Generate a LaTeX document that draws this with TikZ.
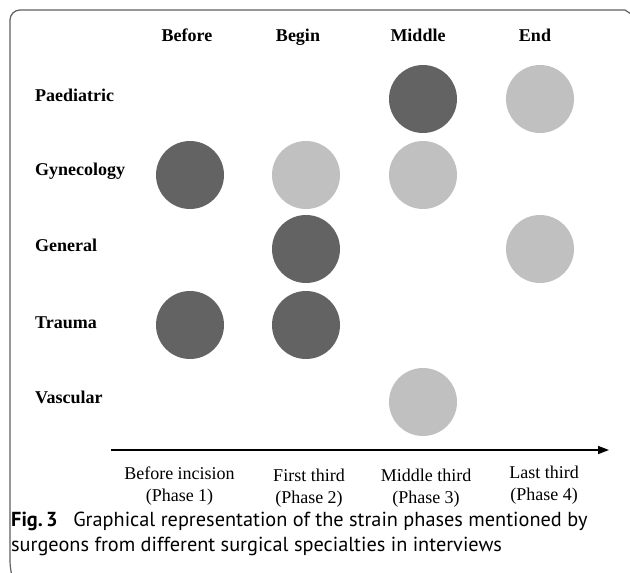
\documentclass[tikz,border=0pt]{standalone}
\usepackage{fontspec}
\setmainfont{Liberation Serif}
\newfontfamily\capfont{PT Sans}
\usetikzlibrary{arrows.meta}
\definecolor{darkdot}{HTML}{636363}
\definecolor{lightdot}{HTML}{C0C0C0}
\definecolor{framecol}{HTML}{606060}
\begin{document}
\begin{tikzpicture}[x=1pt,y=-1pt,
  dotdark/.style={circle,fill=darkdot,draw=none,minimum size=68pt,inner sep=0pt},
  dotlight/.style={circle,fill=lightdot,draw=none,minimum size=68pt,inner sep=0pt},
  headlbl/.style={font=\fontsize{18}{20}\selectfont\bfseries,anchor=base,inner sep=0pt},
  rowlbl/.style={font=\fontsize{18}{20}\selectfont\bfseries,anchor=base west,inner sep=0pt},
  phaselbl/.style={font=\fontsize{18}{20}\selectfont,anchor=base,inner sep=0pt},
  caplbl/.style={font=\capfont\fontsize{20.3}{25}\selectfont,anchor=base west,inner sep=0pt}
]
\useasboundingbox[fill=white] (0,0) rectangle (630,573);
% frame
\draw[framecol,line width=1.2pt] (631,14) -- (625,10) [rounded corners=10pt] -- (10,10) -- (10,571) [sharp corners] -- (11,574);
% headers
\node[headlbl] (hBefore) at (187,41.7) {Before};
\node[headlbl] (hBegin) at (298,41.7) {Begin};
\node[headlbl] (hMiddle) at (418,41.7) {Middle};
\node[headlbl] (hEnd) at (535,41.7) {End};
% row labels
\node[rowlbl] (rPaed) at (35,101.7) {Paediatric};
\node[rowlbl] (rGyn) at (35,175.5) {Gynecology};
\node[rowlbl] (rGen) at (35,251) {General};
\node[rowlbl] (rTrau) at (35,328) {Trauma};
\node[rowlbl] (rVasc) at (35,403) {Vascular};
% dots
\node[dotdark]  (pM) at (423,99) {};
\node[dotlight] (pE) at (540,99) {};
\node[dotdark]  (gyB) at (190,175) {};
\node[dotlight] (gyG) at (306,175) {};
\node[dotlight] (gyM) at (423,175) {};
\node[dotdark]  (geG) at (306,249) {};
\node[dotlight] (geE) at (540,249) {};
\node[dotdark]  (tB) at (190,325) {};
\node[dotdark]  (tG) at (306,325) {};
\node[dotlight] (vM) at (423,402) {};
% axis
\coordinate (axS) at (111,450);
\coordinate (axE) at (609,450);
\draw[line width=1.5pt,-{Triangle[length=11pt,width=8pt]}] (axS) -- (axE);
% phase labels
\node[phaselbl] (p1a) at (179.5,479) {Before incision};
\node[phaselbl] (p1b) at (179.5,501) {(Phase 1)};
\node[phaselbl] (p2a) at (309,481) {First third};
\node[phaselbl] (p2b) at (309,503) {(Phase 2)};
\node[phaselbl] (p3a) at (426,481) {Middle third};
\node[phaselbl] (p3b) at (426,503) {(Phase 3)};
\node[phaselbl] (p4a) at (544,478) {Last third};
\node[phaselbl] (p4b) at (544,500) {(Phase 4)};
% caption
\node[caplbl] (cap1) at (11,526) {\textbf{Fig.\,3}\hspace{0.5em} Graphical representation of the strain phases mentioned by};
\node[caplbl] (cap2) at (11,551) {surgeons from different surgical specialties in interviews};
\end{tikzpicture}
\end{document}
